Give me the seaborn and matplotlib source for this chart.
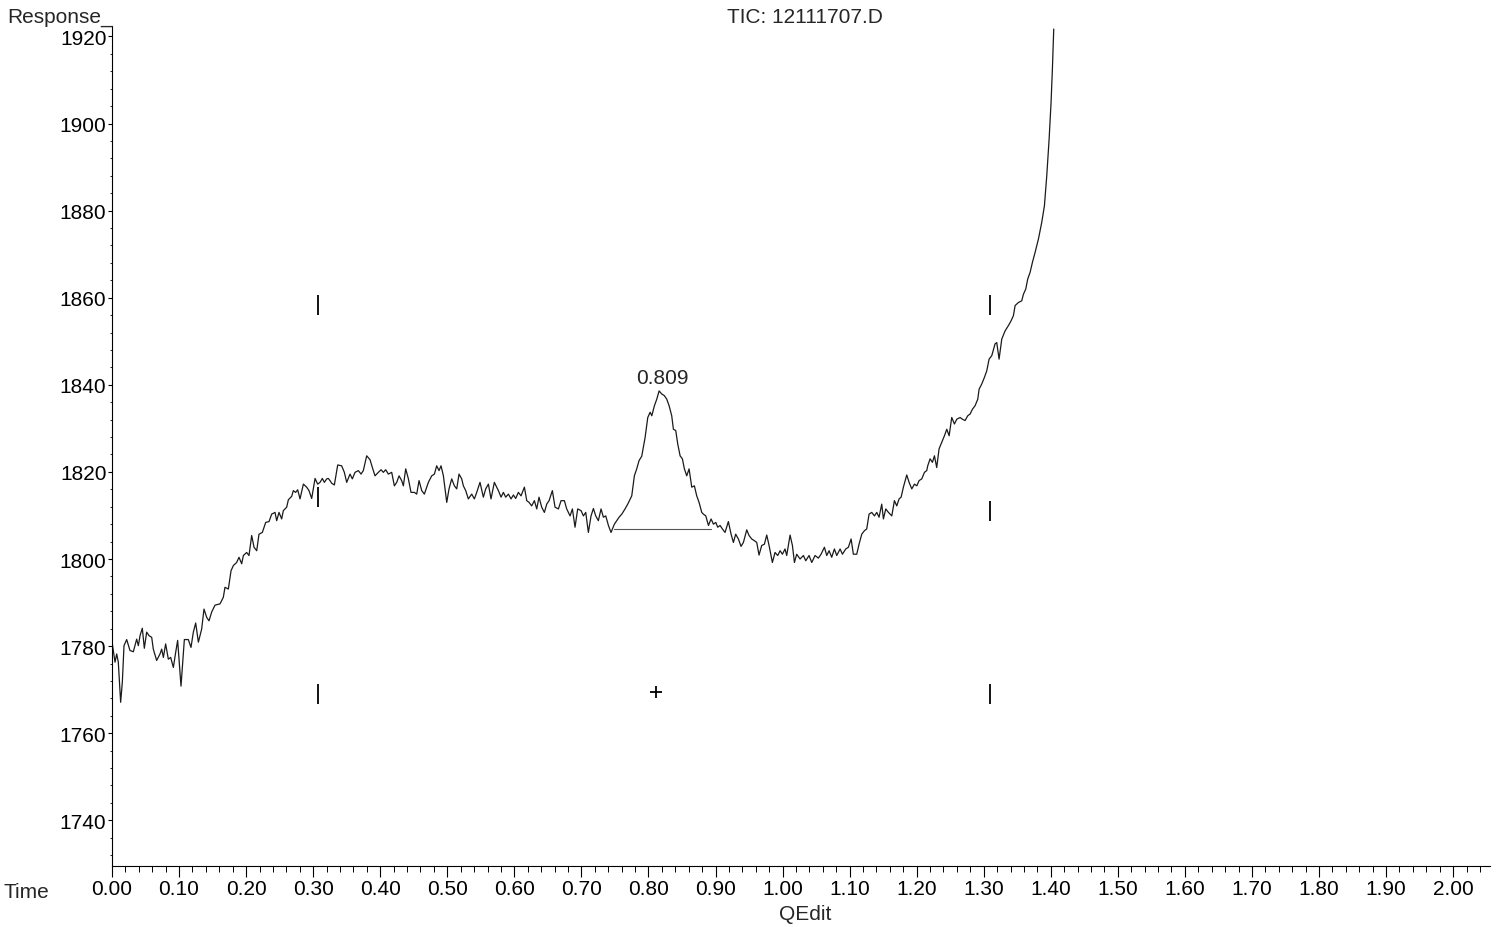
import matplotlib
matplotlib.use("Agg")
import numpy as np
import pandas as pd
import matplotlib.pyplot as plt
from matplotlib.ticker import MultipleLocator, FormatStrFormatter
import seaborn as sns

# Total ion chromatogram trace (time in min, detector response)
time = [
    0.0005, 0.0045, 0.0070, 0.0094, 0.0129, 0.0154, 0.0179, 0.0219, 0.0268, 0.0318,
    0.0368, 0.0393, 0.0418, 0.0452, 0.0482, 0.0517, 0.0552, 0.0592, 0.0616, 0.0666,
    0.0716, 0.0741, 0.0766, 0.0800, 0.0840, 0.0875, 0.0915, 0.0950, 0.0979, 0.1029,
    0.1079, 0.1138, 0.1178, 0.1213, 0.1248, 0.1288, 0.1337, 0.1372, 0.1412, 0.1447,
    0.1486, 0.1536, 0.1611, 0.1660, 0.1685, 0.1735, 0.1775, 0.1810, 0.1859, 0.1894,
    0.1934, 0.1959, 0.2008, 0.2043, 0.2083, 0.2118, 0.2158, 0.2192, 0.2242, 0.2292,
    0.2342, 0.2381, 0.2431, 0.2456, 0.2491, 0.2530, 0.2555, 0.2605, 0.2630, 0.2680,
    0.2704, 0.2739, 0.2769, 0.2804,
    0.2854, 0.2903, 0.2938, 0.2978, 0.3028, 0.3067, 0.3102, 0.3137, 0.3167, 0.3202,
    0.3226, 0.3251, 0.3276, 0.3316, 0.3366, 0.3425, 0.3465, 0.3500, 0.3550, 0.3584,
    0.3624, 0.3674, 0.3714, 0.3748, 0.3798, 0.3848, 0.3883, 0.3922, 0.3972, 0.4012,
    0.4047, 0.4082, 0.4121, 0.4171, 0.4211, 0.4246, 0.4281, 0.4320, 0.4345, 0.4380,
    0.4420, 0.4459, 0.4509, 0.4544, 0.4579, 0.4619, 0.4658, 0.4718, 0.4768, 0.4808,
    0.4842, 0.4877, 0.4907, 0.4942, 0.4992, 0.5026, 0.5066, 0.5106, 0.5141, 0.5175,
    0.5215, 0.5240, 0.5275, 0.5314, 0.5364, 0.5404, 0.5439, 0.5488, 0.5538, 0.5573,
    0.5613, 0.5652, 0.5702, 0.5762,
    0.5802, 0.5837, 0.5871, 0.5911, 0.5951, 0.5986, 0.6020, 0.6060, 0.6100, 0.6150,
    0.6185, 0.6219, 0.6259, 0.6299, 0.6334, 0.6368, 0.6408, 0.6448, 0.6483, 0.6518,
    0.6567, 0.6607, 0.6657, 0.6697, 0.6746, 0.6781, 0.6831, 0.6866, 0.6905, 0.6945,
    0.6995, 0.7030, 0.7065, 0.7104, 0.7144, 0.7179, 0.7214, 0.7253, 0.7293, 0.7328,
    0.7363, 0.7403, 0.7442, 0.7492, 0.7527, 0.7562, 0.7602, 0.7651, 0.7691, 0.7751,
    0.7790, 0.7825, 0.7860, 0.7900, 0.7950, 0.7990, 0.8025, 0.8050, 0.8089, 0.8124,
    0.8159, 0.8198, 0.8238, 0.8273, 0.8308, 0.8347, 0.8372, 0.8407, 0.8437, 0.8472,
    0.8506, 0.8536, 0.8571, 0.8606, 0.8646, 0.8685, 0.8720, 0.8755, 0.8795, 0.8820,
    0.8855, 0.8895, 0.8934, 0.8969, 0.9004,
    0.9033, 0.9068, 0.9103, 0.9142, 0.9192, 0.9232, 0.9267, 0.9301, 0.9341, 0.9381,
    0.9416, 0.9466, 0.9500, 0.9540, 0.9580, 0.9615, 0.9649, 0.9689, 0.9729, 0.9764,
    0.9799, 0.9848, 0.9888, 0.9928, 0.9963, 0.9998, 1.0037, 1.0062, 1.0112, 1.0147,
    1.0177, 1.0211, 1.0261, 1.0311, 1.0346, 1.0395, 1.0435, 1.0485, 1.0534, 1.0574,
    1.0624, 1.0659, 1.0694, 1.0733, 1.0773, 1.0808, 1.0858, 1.0893, 1.0942, 1.0982,
    1.1022, 1.1056, 1.1106, 1.1141, 1.1181, 1.1221, 1.1255, 1.1290, 1.1330, 1.1370,
    1.1405, 1.1439, 1.1479, 1.1504, 1.1539, 1.1579, 1.1629, 1.1668, 1.1703, 1.1738,
    1.1768, 1.1802, 1.1852, 1.1887, 1.1927, 1.1967, 1.2002, 1.2036, 1.2076, 1.2116,
    1.2150,
    1.2165, 1.2200, 1.2235, 1.2265, 1.2299, 1.2334, 1.2374, 1.2414, 1.2449, 1.2484,
    1.2523, 1.2563, 1.2598, 1.2648, 1.2682, 1.2722, 1.2762, 1.2797, 1.2832, 1.2871,
    1.2911, 1.2931, 1.2971, 1.3010, 1.3045, 1.3080, 1.3120, 1.3169, 1.3194, 1.3229,
    1.3269, 1.3319, 1.3368, 1.3408, 1.3443, 1.3468, 1.3517, 1.3567, 1.3592, 1.3627,
    1.3656, 1.3691, 1.3726, 1.3766, 1.3816, 1.3865, 1.3905, 1.3940, 1.3975, 1.4004,
    1.4024, 1.4044,
]

response = [
    1780.5, 1776.3, 1778.2, 1776.3, 1767.1, 1771.7, 1780.1, 1781.5, 1779.0, 1778.7,
    1781.6, 1780.1, 1782.4, 1784.1, 1779.5, 1783.2, 1782.4, 1782.0, 1779.3, 1776.7,
    1778.2, 1779.3, 1777.4, 1780.5, 1777.0, 1777.4, 1775.1, 1778.6, 1781.3, 1770.8,
    1781.5, 1781.5, 1779.7, 1783.2, 1785.3, 1780.9, 1783.9, 1788.5, 1786.6, 1785.8,
    1787.8, 1789.4, 1789.7, 1791.2, 1793.5, 1793.1, 1797.3, 1798.5, 1799.2, 1800.4,
    1798.9, 1800.8, 1801.5, 1800.8, 1805.4, 1802.7, 1801.9, 1805.7, 1806.1, 1808.4,
    1808.6, 1810.3, 1810.7, 1808.8, 1810.7, 1809.2, 1811.1, 1811.9, 1813.6, 1814.4,
    1815.7, 1815.3, 1815.9, 1813.8,
    1817.2, 1816.5, 1815.7, 1813.9, 1818.5, 1817.2, 1817.6, 1818.5, 1817.6, 1818.4,
    1818.5, 1818.0, 1817.4, 1817.0, 1821.6, 1821.4, 1819.9, 1817.6, 1819.5, 1818.4,
    1819.9, 1820.3, 1819.5, 1820.3, 1823.7, 1822.8, 1821.0, 1819.1, 1819.9, 1820.5,
    1819.9, 1820.5, 1819.5, 1819.9, 1816.8, 1817.6, 1819.1, 1818.0, 1816.8, 1820.7,
    1818.4, 1815.3, 1815.3, 1814.9, 1818.0, 1815.7, 1814.9, 1817.6, 1819.1, 1819.5,
    1821.4, 1820.3, 1821.4, 1819.1, 1813.0, 1816.1, 1818.4, 1816.8, 1816.1, 1819.5,
    1818.4, 1816.8, 1815.7, 1813.8, 1814.9, 1813.8, 1815.3, 1817.6, 1814.2, 1816.1,
    1817.2, 1813.8, 1817.6, 1815.7,
    1814.2, 1815.3, 1814.2, 1814.9, 1813.8, 1814.7, 1813.9, 1815.3, 1814.5, 1816.5,
    1813.4, 1813.0, 1812.2, 1813.4, 1811.5, 1814.2, 1811.9, 1810.7, 1812.6, 1813.4,
    1815.7, 1811.9, 1811.5, 1813.4, 1813.4, 1811.5, 1809.9, 1811.5, 1807.3, 1811.5,
    1811.1, 1809.9, 1810.7, 1806.1, 1809.9, 1811.6, 1809.9, 1808.8, 1811.5, 1809.6,
    1809.9, 1807.7, 1806.1, 1808.0, 1808.8, 1809.6, 1810.3, 1811.5, 1812.6, 1814.5,
    1819.1, 1820.7, 1822.6, 1823.6, 1827.9, 1832.5, 1833.7, 1832.9, 1835.2, 1836.7,
    1838.6, 1837.9, 1837.5, 1836.7, 1835.2, 1832.9, 1829.8, 1829.5, 1826.4, 1823.7,
    1823.0, 1820.7, 1819.1, 1820.7, 1816.5, 1816.8, 1814.5, 1813.0, 1810.7, 1810.3,
    1809.9, 1807.7, 1809.2, 1808.0, 1808.4,
    1807.3, 1807.7, 1806.9, 1806.1, 1808.6, 1805.7, 1803.8, 1805.7, 1804.6, 1802.9,
    1803.8, 1806.7, 1805.4, 1804.6, 1804.2, 1803.8, 1800.9, 1803.1, 1803.4, 1805.5,
    1803.1, 1799.2, 1801.5, 1800.8, 1801.9, 1801.1, 1802.3, 1800.8, 1805.5, 1803.1,
    1799.2, 1801.1, 1800.0, 1800.8, 1799.6, 1800.8, 1799.2, 1800.8, 1800.2, 1801.1,
    1802.7, 1800.8, 1801.9, 1800.4, 1802.3, 1800.8, 1802.3, 1801.1, 1802.3, 1802.7,
    1804.6, 1801.1, 1801.1, 1803.4, 1805.7, 1806.5, 1806.9, 1810.3, 1810.7, 1809.9,
    1810.7, 1809.6, 1812.6, 1809.2, 1811.5, 1810.7, 1809.9, 1813.4, 1812.2, 1813.8,
    1814.2, 1816.5, 1819.3, 1817.6, 1816.1, 1817.2, 1816.8, 1818.0, 1818.4, 1819.9,
    1820.3,
    1821.4, 1823.0, 1822.2, 1823.7, 1821.0, 1825.3, 1826.8, 1828.3, 1829.8, 1828.3,
    1832.5, 1831.0, 1832.1, 1832.5, 1832.1, 1831.8, 1832.9, 1833.3, 1834.4, 1835.2,
    1836.7, 1839.0, 1840.2, 1841.7, 1843.2, 1845.9, 1846.7, 1849.4, 1849.7, 1845.9,
    1850.5, 1852.4, 1853.6, 1854.7, 1855.9, 1858.2, 1858.9, 1859.3, 1860.8, 1862.0,
    1864.3, 1865.8, 1868.1, 1870.4, 1873.5, 1877.3, 1881.1, 1888.0, 1896.4, 1904.8,
    1912.5, 1921.7,
]

# Integrated peak
peak_rt = 0.809
baseline_times = [0.748, 0.893]
baseline_level = 1807.0

# Integration event ticks: (time, low, high)
event_times = [0.307, 0.307, 0.307, 1.309, 1.309, 1.309]
event_low = [1856.0, 1811.9, 1766.7, 1856.0, 1808.8, 1766.7]
event_high = [1860.6, 1816.5, 1771.3, 1860.6, 1813.4, 1771.3]
cross_time = 0.811
cross_level = 1769.5

sns.set_theme(style="ticks")
plt.rcParams["font.family"] = ["Liberation Sans", "DejaVu Sans"]

W, H = 1499, 928
fig = plt.figure(figsize=(W / 100, H / 100), dpi=100)
ax = fig.add_axes([112 / W, 61 / H, 1378 / W, 840 / H])

df = pd.DataFrame({"Time": time, "Response": response})
sns.lineplot(data=df, x="Time", y="Response", ax=ax, color="#1a1a1a",
             linewidth=0.9, estimator=None, sort=False)

# Peak baseline
ax.plot(baseline_times, [baseline_level, baseline_level], color="#555555", linewidth=0.8)

# Event markers
ax.vlines(event_times, event_low, event_high, color="black", linewidth=1.3)
ax.plot([cross_time], [cross_level], marker="+", markersize=8, markeredgewidth=1.3,
        color="black", linestyle="none")

# Retention time label at the peak apex
t_arr = np.asarray(time)
r_arr = np.asarray(response)
in_peak = (t_arr >= baseline_times[0]) & (t_arr <= baseline_times[1])
idx = np.flatnonzero(in_peak)[np.argmax(r_arr[in_peak])]
ax.annotate(f"{peak_rt:.3f}", xy=(t_arr[idx], r_arr[idx]), xytext=(2, 3),
            textcoords="offset points", ha="center", va="bottom", fontsize=15)

ax.set_xlim(0, 2.055)
ax.set_ylim(1729.5, 1922.4)
ax.xaxis.set_major_locator(MultipleLocator(0.1))
ax.xaxis.set_minor_locator(MultipleLocator(0.02))
ax.xaxis.set_major_formatter(FormatStrFormatter("%.2f"))
ax.yaxis.set_major_locator(MultipleLocator(20))
ax.yaxis.set_minor_locator(MultipleLocator(4))
ax.yaxis.set_major_formatter(FormatStrFormatter("%d"))
ax.set_xlabel("")
ax.set_ylabel("")

sns.despine(ax=ax)
for side in ("left", "bottom"):
    ax.spines[side].set_color("black")
    ax.spines[side].set_linewidth(0.8)

ax.tick_params(axis="x", which="major", direction="out", length=8, width=0.8,
               pad=1.5, labelsize=15, colors="black")
ax.tick_params(axis="x", which="minor", direction="out", length=4.3, width=0.7,
               colors="black")
ax.tick_params(axis="y", which="major", direction="out", length=3, width=0.8,
               pad=1, labelsize=15, colors="black")
ax.tick_params(axis="y", which="minor", direction="out", length=1.5, width=0.6,
               colors="black")

fig.text(7 / W, 1 - 23 / H, "Response_", ha="left", va="baseline", fontsize=15)
fig.text(805 / W, 1 - 23 / H, "TIC: 12111707.D", ha="center", va="baseline", fontsize=15)
fig.text(4 / W, 1 - 898 / H, "Time", ha="left", va="baseline", fontsize=15)
fig.text(805 / W, 1 - 920 / H, "QEdit", ha="center", va="baseline", fontsize=15)

fig.savefig("out.png", dpi=100, facecolor="white")
